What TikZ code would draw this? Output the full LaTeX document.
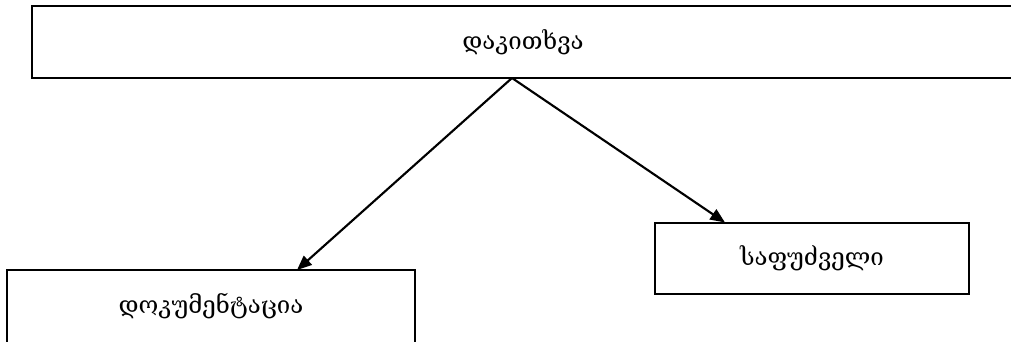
\documentclass[tikz,border=0pt]{standalone}
\usepackage{fontspec}
\setmainfont{DejaVu Serif}
\usetikzlibrary{arrows.meta}

\tikzset{
  box/.style={draw, line width=1.6pt, inner sep=0pt, font=\fontsize{18}{21}\selectfont},
  link/.style={line width=1.6pt, -{Triangle[length=11pt,width=9pt]}}
}

\begin{document}
\begin{tikzpicture}[x=0.75pt,y=-0.75pt]
    \useasboundingbox (0,0) rectangle (1011,342);
    \clip (0,0) rectangle (1011,342);

    % boxes
    \node[box, minimum width=982*0.75pt, minimum height=72*0.75pt]
      (question) at (523,42) {დაკითხვა};
    \node[box, minimum width=314*0.75pt, minimum height=71*0.75pt]
      (basis) at (812,258.5) {საფუძველი};
    \node[box, minimum width=408*0.75pt, minimum height=73*0.75pt]
      (docs) at (211,306.5) {დოკუმენტაცია};

    % arrows
    \coordinate (fork) at (512,78);
    \coordinate (docs-in) at (297,270);
    \coordinate (basis-in) at (725,222.5);
    \draw[link] (fork) -- (docs-in);
    \draw[link] (fork) -- (basis-in);

\end{tikzpicture}
\end{document}
